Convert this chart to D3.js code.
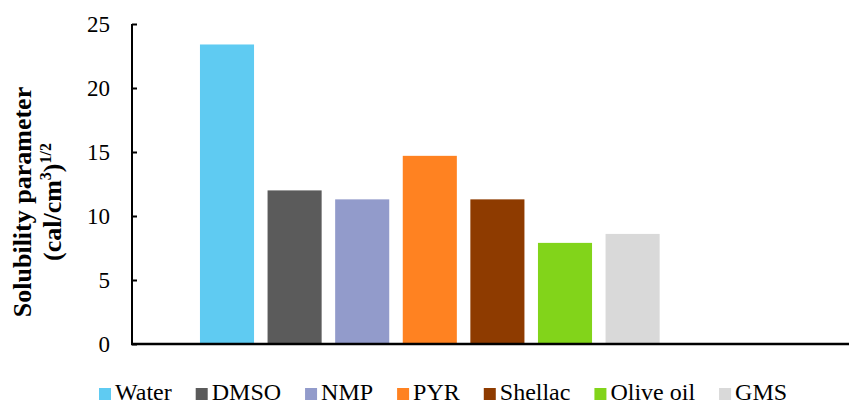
<!DOCTYPE html>
<html><head><meta charset="utf-8">
<script src="https://cdn.jsdelivr.net/npm/d3@7"></script>
<style>body{margin:0;background:#fff}svg{display:block}</style>
</head><body>
<svg id="c" width="849" height="405"></svg>
<script>
const categories = ["Water","DMSO","NMP","PYR","Shellac","Olive oil","GMS"];
const values = [23.4, 12.0, 11.3, 14.7, 11.3, 7.9, 8.6];
const colors = ["#5FCBF2","#5B5B5B","#929BCB","#FF8221","#8E3B00","#82D41A","#D9D9D9"];
const yTicks = [0,5,10,15,20,25];

const svg = d3.select("#c");
const font = "'Liberation Serif','Times New Roman',serif";
const y = d3.scaleLinear().domain([0,25]).range([344,24]);
const x = d3.scaleBand().domain(categories).range([193.2,666.4]).paddingInner(0.2).paddingOuter(0.1);

// bars
svg.append("g").selectAll("rect").data(categories).join("rect")
  .attr("x", d => x(d)).attr("width", x.bandwidth())
  .attr("y", (d,i) => y(values[i])).attr("height", (d,i) => y(0) - y(values[i]))
  .attr("fill", (d,i) => colors[i]);

// y axis
const yAxis = d3.axisLeft(y).tickValues(yTicks).tickSize(-5).tickPadding(22);
const gy = svg.append("g").attr("transform","translate(132,0)").call(yAxis);
gy.select(".domain").attr("stroke","#000").attr("stroke-width",2).attr("d","M0,24V344");
gy.selectAll(".tick line").attr("stroke","#000").attr("stroke-width",2);
gy.selectAll(".tick text").attr("font-family",font).attr("font-size",23).attr("fill","#000");

// x axis line
svg.append("line").attr("x1",131).attr("x2",849).attr("y1",y(0)).attr("y2",y(0))
  .attr("stroke","#000").attr("stroke-width",2.5);

// y title
const t = svg.append("text").attr("transform","translate(0,202) rotate(-90)")
  .attr("font-family",font).attr("font-weight","bold").attr("font-size",26)
  .attr("text-anchor","middle").attr("fill","#000");
t.append("tspan").attr("x",0).attr("y",31).text("Solubility parameter");
const t2 = t.append("tspan").attr("x",0).attr("y",61);
t2.append("tspan").text("(cal/cm");
t2.append("tspan").attr("font-size",16).attr("dy",-10).text("3");
t2.append("tspan").attr("font-size",26).attr("dy",10).text(")");
t2.append("tspan").attr("font-size",16).attr("dy",-10).text("1/2");

// legend
const lg = svg.append("g");
let lx = 99;
categories.forEach((c,i) => {
  lg.append("rect").attr("x",lx).attr("y",388).attr("width",12).attr("height",12).attr("fill",colors[i]);
  const tx = lg.append("text").attr("x",lx+16).attr("y",400)
    .attr("font-family",font).attr("font-size",24).attr("fill","#000").text(c);
  lx += 16 + tx.node().getComputedTextLength() + 24;
});
</script>
</body></html>
